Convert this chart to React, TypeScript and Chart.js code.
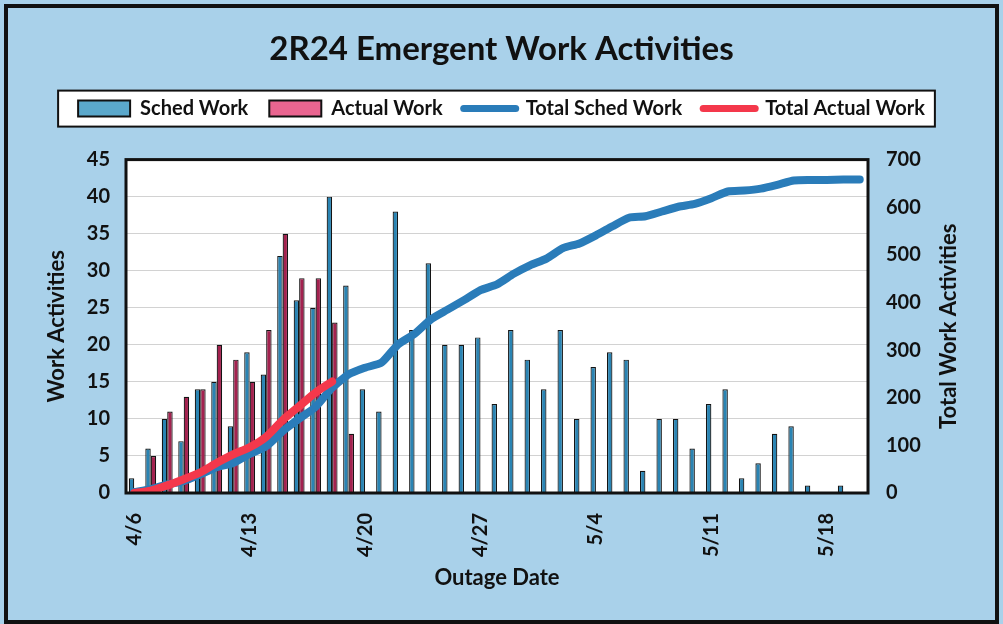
import { useEffect, useRef } from 'react';
import { Chart, registerables } from 'chart.js';

Chart.register(...registerables);

const dates = [
  '4/6', '4/7', '4/8', '4/9', '4/10', '4/11', '4/12', '4/13', '4/14', '4/15',
  '4/16', '4/17', '4/18', '4/19', '4/20', '4/21', '4/22', '4/23', '4/24', '4/25',
  '4/26', '4/27', '4/28', '4/29', '4/30', '5/1', '5/2', '5/3', '5/4', '5/5',
  '5/6', '5/7', '5/8', '5/9', '5/10', '5/11', '5/12', '5/13', '5/14', '5/15',
  '5/16', '5/17', '5/18', '5/19', '5/20',
];

const tickLabels = ['4/6', '4/13', '4/20', '4/27', '5/4', '5/11', '5/18'];

const schedWork = [
  2, 6, 10, 7, 14, 15, 9, 19, 16, 32,
  26, 25, 40, 28, 14, 11, 38, 22, 31, 20,
  20, 21, 12, 22, 18, 14, 22, 10, 17, 19,
  18, 3, 10, 10, 6, 12, 14, 2, 4, 8,
  9, 1, 0, 1, 0,
];

const actualWork = [0, 5, 11, 13, 14, 20, 18, 15, 22, 35, 29, 29, 23, 8];

const totalSchedWork = [
  2, 8, 18, 25, 39, 54, 63, 82, 98, 130,
  156, 181, 221, 249, 263, 274, 312, 334, 365, 385,
  405, 426, 438, 460, 478, 492, 514, 524, 541, 560,
  578, 581, 591, 601, 607, 619, 633, 635, 639, 647,
  656, 657, 657, 658, 658,
];

const totalActualWork = [0, 5, 16, 29, 43, 63, 81, 96, 118, 153, 182, 211, 234];

const FONT = 'Lato, "Open Sans", sans-serif';
const legendSwatch = ['#5ba8cb', '#ea6590', '#2a7cb9', '#f4384b'];
const rightTitle = 'Total Work Activities';

const framePlugin = {
  id: 'frame',
  beforeDraw(chart: any) {
    const { ctx, width, height, chartArea, legend } = chart;
    ctx.save();
    ctx.fillStyle = '#a9d1ea';
    ctx.fillRect(0, 0, width, height);
    ctx.lineWidth = 4;
    ctx.strokeStyle = '#111';
    ctx.strokeRect(6, 6, width - 12, height - 8);
    ctx.fillStyle = '#ffffff';
    ctx.fillRect(chartArea.left, chartArea.top, chartArea.right - chartArea.left, chartArea.bottom - chartArea.top);
    if (legend && legend.legendHitBoxes && legend.legendHitBoxes.length) {
      const hb = legend.legendHitBoxes;
      let l = Infinity, r = -Infinity, t = Infinity, b = -Infinity;
      hb.forEach((h: any) => {
        l = Math.min(l, h.left); r = Math.max(r, h.left + h.width);
        t = Math.min(t, h.top); b = Math.max(b, h.top + h.height);
      });
      ctx.fillStyle = '#ffffff';
      ctx.fillRect(l - 20, t - 8, r - l + 30, b - t + 16);
      ctx.lineWidth = 2;
      ctx.strokeRect(l - 20, t - 8, r - l + 30, b - t + 16);
    }
    ctx.restore();
  },
  afterDatasetsDraw(chart: any) {
    const { ctx, chartArea } = chart;
    ctx.save();
    ctx.lineWidth = 3;
    ctx.strokeStyle = '#111';
    ctx.strokeRect(chartArea.left, chartArea.top, chartArea.right - chartArea.left, chartArea.bottom - chartArea.top);
    ctx.restore();
  },
  afterDraw(chart: any) {
    const { ctx, chartArea, scales } = chart;
    const s = scales.y2;
    ctx.save();
    ctx.translate(s.right - 34, (chartArea.top + chartArea.bottom) / 2);
    ctx.rotate(-Math.PI / 2);
    ctx.fillStyle = '#111';
    ctx.font = `bold 22px ${FONT}`;
    ctx.textAlign = 'center';
    ctx.textBaseline = 'middle';
    ctx.fillText(rightTitle, 0, 0);
    ctx.restore();
  },
};

export default function App() {
  const ref = useRef<HTMLCanvasElement>(null);
  useEffect(() => {
    document.body.style.margin = '0';
    const chart = new Chart(ref.current as HTMLCanvasElement, {
      type: 'bar',
      data: {
        labels: dates,
        datasets: [
          {
            type: 'bar',
            label: 'Sched Work',
            data: schedWork,
            backgroundColor: '#2a84b3',
            borderColor: '#141414',
            borderWidth: 1.2,
            categoryPercentage: 0.66,
            barPercentage: 1,
            yAxisID: 'y',
            order: 2,
          },
          {
            type: 'bar',
            label: 'Actual Work',
            data: actualWork,
            backgroundColor: '#a3224f',
            borderColor: '#141414',
            borderWidth: 1.2,
            categoryPercentage: 0.66,
            barPercentage: 1,
            yAxisID: 'y',
            order: 3,
          },
          {
            type: 'line',
            label: 'Total Sched Work',
            data: totalSchedWork,
            borderColor: '#2a7cb9',
            backgroundColor: '#2a7cb9',
            borderWidth: 8,
            pointRadius: 0,
            borderCapStyle: 'round',
            borderJoinStyle: 'round',
            tension: 0.2,
            yAxisID: 'y2',
            order: 1,
          },
          {
            type: 'line',
            label: 'Total Actual Work',
            data: totalActualWork,
            borderColor: '#f4384b',
            backgroundColor: '#f4384b',
            borderWidth: 8,
            pointRadius: 0,
            borderCapStyle: 'round',
            borderJoinStyle: 'round',
            tension: 0.2,
            yAxisID: 'y2',
            order: 0,
          },
        ] as any,
      },
      options: {
        animation: false,
        responsive: false,
        layout: { padding: { left: 20, right: 20, top: 0, bottom: 14 } },
        plugins: {
          tooltip: { enabled: false },
          title: {
            display: true,
            text: '2R24 Emergent Work Activities',
            color: '#111',
            font: { family: FONT, size: 33, weight: 'bold' },
            padding: { top: 30, bottom: 8 },
          },
          legend: {
            display: true,
            position: 'top',
            labels: {
              usePointStyle: true,
              pointStyleWidth: 52,
              boxHeight: 16,
              padding: 21,
              color: '#111',
              font: { family: FONT, size: 20, weight: 'bold' },
              generateLabels: (c: any) =>
                c.data.datasets.map((ds: any, i: number) => {
                  const isLine = ds.type === 'line';
                  return {
                    text: ds.label,
                    datasetIndex: i,
                    fillStyle: legendSwatch[i],
                    strokeStyle: isLine ? legendSwatch[i] : '#111',
                    lineWidth: isLine ? 7 : 2,
                    lineCap: 'round',
                    pointStyle: isLine ? 'line' : 'rect',
                    hidden: false,
                    fontColor: '#111',
                  };
                }),
            },
          },
        },
        scales: {
          x: {
            type: 'category',
            position: 'bottom',
            grid: { display: false },
            border: { display: false },
            ticks: {
              autoSkip: false,
              minRotation: 90,
              maxRotation: 90,
              padding: 12,
              color: '#111',
              font: { family: FONT, size: 20, weight: 'bold' },
              callback: (_v: any, i: number) => (tickLabels.includes(dates[i]) ? dates[i] : ''),
            },
            title: {
              display: true,
              text: 'Outage Date',
              color: '#111',
              font: { family: FONT, size: 22, weight: 'bold' },
              padding: { top: 0, bottom: 19 },
            },
            afterFit: (s: any) => { s.height = 117; },
          },
          xTop: {
            type: 'category',
            position: 'top',
            grid: { display: false },
            border: { display: false },
            ticks: { display: false },
            afterFit: (s: any) => { s.height = 31; },
          },
          y: {
            type: 'linear',
            position: 'left',
            min: 0,
            max: 45,
            ticks: {
              stepSize: 5,
              padding: 16,
              color: '#111',
              font: { family: FONT, size: 20, weight: 'bold' },
            },
            grid: { color: '#d2d2d2', lineWidth: 1, drawTicks: false },
            border: { display: false },
            title: {
              display: true,
              text: 'Work Activities',
              color: '#111',
              font: { family: FONT, size: 22, weight: 'bold' },
              padding: { top: 24, bottom: 0 },
            },
            afterFit: (s: any) => { s.width = 106; },
          },
          y2: {
            type: 'linear',
            position: 'right',
            min: 0,
            max: 700,
            ticks: {
              stepSize: 100,
              padding: 18,
              color: '#111',
              font: { family: FONT, size: 20, weight: 'bold' },
            },
            grid: { display: false, drawTicks: false },
            border: { display: false },
            afterFit: (s: any) => { s.width = 115; },
          },
        },
      } as any,
      plugins: [framePlugin],
    });
    return () => chart.destroy();
  }, []);
  return <canvas ref={ref} width={1003} height={624} style={{ display: 'block' }} />;
}
